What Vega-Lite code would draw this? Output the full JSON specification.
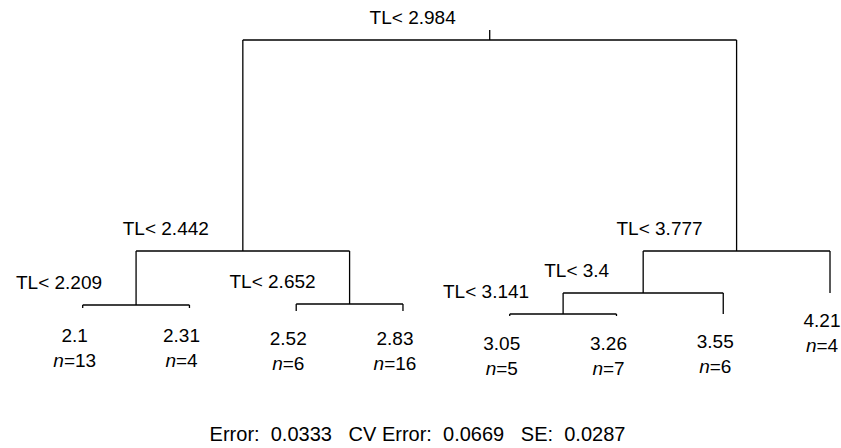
{
  "$schema": "https://vega.github.io/schema/vega-lite/v6.json",
  "width": 841,
  "height": 410,
  "padding": 0,
  "autosize": {"type": "pad"},
  "background": "white",
  "config": {
    "view": {"stroke": null},
    "text": {"font": "Liberation Sans", "fontSize": 19, "color": "black"}
  },
  "title": {
    "text": "Error:\u00a0\u00a00.0333\u00a0\u00a0\u00a0CV Error:\u00a0\u00a00.0669\u00a0\u00a0\u00a0SE:\u00a0\u00a00.0287",
    "orient": "bottom",
    "anchor": "middle",
    "font": "Liberation Sans",
    "fontSize": 20,
    "fontWeight": "normal",
    "color": "black",
    "offset": 15,
    "dx": -3
  },
  "datasets": {
    "segs": [
      {"x": 4.8125, "x2": 4.8125, "h": 418, "h2": 408},
      {"x": 2.5, "x2": 7.125, "h": 408, "h2": 408},
      {"x": 2.5, "x2": 2.5, "h": 408, "h2": 197},
      {"x": 7.125, "x2": 7.125, "h": 408, "h2": 197},
      {"x": 1.5, "x2": 3.5, "h": 197, "h2": 197},
      {"x": 1.5, "x2": 1.5, "h": 197, "h2": 143},
      {"x": 3.5, "x2": 3.5, "h": 197, "h2": 144},
      {"x": 1, "x2": 2, "h": 143, "h2": 143},
      {"x": 1, "x2": 1, "h": 143, "h2": 140},
      {"x": 2, "x2": 2, "h": 143, "h2": 140},
      {"x": 3, "x2": 4, "h": 144, "h2": 144},
      {"x": 3, "x2": 3, "h": 144, "h2": 137},
      {"x": 4, "x2": 4, "h": 144, "h2": 137},
      {"x": 6.25, "x2": 8, "h": 197, "h2": 197},
      {"x": 6.25, "x2": 6.25, "h": 197, "h2": 155},
      {"x": 8, "x2": 8, "h": 197, "h2": 155},
      {"x": 5.5, "x2": 7, "h": 155, "h2": 155},
      {"x": 5.5, "x2": 5.5, "h": 155, "h2": 134},
      {"x": 7, "x2": 7, "h": 155, "h2": 134},
      {"x": 5, "x2": 6, "h": 134, "h2": 134},
      {"x": 5, "x2": 5, "h": 134, "h2": 132},
      {"x": 6, "x2": 6, "h": 134, "h2": 132}
    ],
    "splits": [
      {"x": 4.8125, "h": 408, "label": "TL< 2.984"},
      {"x": 2.5, "h": 197, "label": "TL< 2.442"},
      {"x": 7.125, "h": 197, "label": "TL< 3.777"},
      {"x": 1.5, "h": 143, "label": "TL< 2.209"},
      {"x": 3.5, "h": 144, "label": "TL< 2.652"},
      {"x": 6.25, "h": 155, "label": "TL< 3.4"},
      {"x": 5.5, "h": 134, "label": "TL< 3.141"}
    ],
    "leaves": [
      {"x": 1, "h": 140, "value": "2.1", "n": 13, "nlab": "=13"},
      {"x": 2, "h": 140, "value": "2.31", "n": 4, "nlab": "=4"},
      {"x": 3, "h": 137, "value": "2.52", "n": 6, "nlab": "=6"},
      {"x": 4, "h": 137, "value": "2.83", "n": 16, "nlab": "=16"},
      {"x": 5, "h": 132, "value": "3.05", "n": 5, "nlab": "=5"},
      {"x": 6, "h": 132, "value": "3.26", "n": 7, "nlab": "=7"},
      {"x": 7, "h": 134, "value": "3.55", "n": 6, "nlab": "=6"},
      {"x": 8, "h": 155, "value": "4.21", "n": 4, "nlab": "=4"}
    ]
  },
  "encoding": {
    "x": {"field": "x", "type": "quantitative", "scale": {"domain": [0.2254, 8.103], "nice": false, "zero": false}, "axis": null},
    "y": {"field": "h", "type": "quantitative", "scale": {"domain": [38, 448], "nice": false, "zero": false}, "axis": null}
  },
  "layer": [
    {
      "data": {"name": "segs"},
      "mark": {"type": "rule", "color": "black", "strokeWidth": 1.3},
      "encoding": {
        "x2": {"field": "x2"},
        "y2": {"field": "h2"}
      }
    },
    {
      "data": {"name": "splits"},
      "mark": {"type": "text", "align": "right", "baseline": "middle", "dx": -34, "dy": -22.5},
      "encoding": {"text": {"field": "label"}}
    },
    {
      "data": {"name": "leaves"},
      "mark": {"type": "text", "align": "center", "baseline": "middle", "dx": -8, "dy": 28},
      "encoding": {"text": {"field": "value"}}
    },
    {
      "data": {"name": "leaves"},
      "transform": [{"filter": "datum.n < 10"}],
      "mark": {"type": "text", "align": "right", "baseline": "middle", "fontStyle": "italic", "dx": -13.5, "dy": 53},
      "encoding": {"text": {"value": "n"}}
    },
    {
      "data": {"name": "leaves"},
      "transform": [{"filter": "datum.n < 10"}],
      "mark": {"type": "text", "align": "left", "baseline": "middle", "dx": -13.5, "dy": 53},
      "encoding": {"text": {"field": "nlab"}}
    },
    {
      "data": {"name": "leaves"},
      "transform": [{"filter": "datum.n >= 10"}],
      "mark": {"type": "text", "align": "right", "baseline": "middle", "fontStyle": "italic", "dx": -18.8, "dy": 53},
      "encoding": {"text": {"value": "n"}}
    },
    {
      "data": {"name": "leaves"},
      "transform": [{"filter": "datum.n >= 10"}],
      "mark": {"type": "text", "align": "left", "baseline": "middle", "dx": -18.8, "dy": 53},
      "encoding": {"text": {"field": "nlab"}}
    }
  ]
}
